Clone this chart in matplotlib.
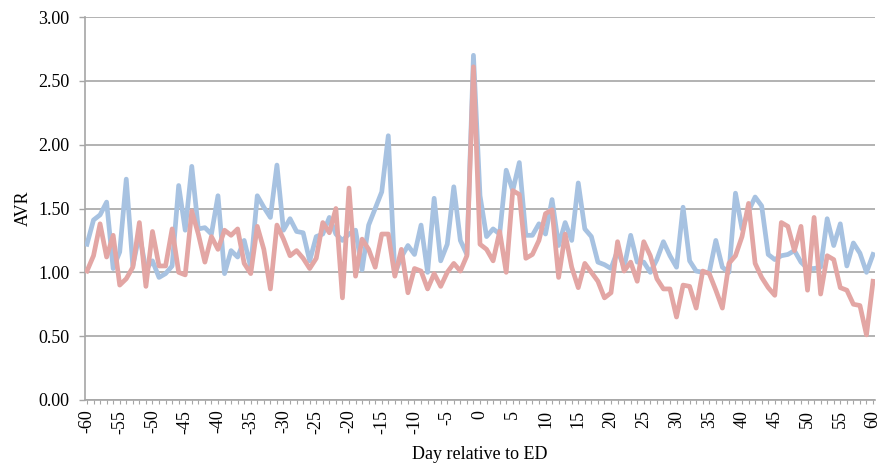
import numpy as np
import matplotlib
matplotlib.use("Agg")
import matplotlib.pyplot as plt
from matplotlib.ticker import MultipleLocator, FormatStrFormatter

plt.rcParams['font.family'] = ['Liberation Serif', 'DejaVu Serif']

days = list(range(-60, 61))

# blue series
avr_blue = [
    1.22, 1.41, 1.45, 1.55, 1.03, 1.16, 1.73, 1.05, 1.30, 1.02,   # -60..-51
    1.09, 0.96, 0.99, 1.05, 1.68, 1.33, 1.83, 1.34, 1.35, 1.30,   # -50..-41
    1.60, 0.99, 1.17, 1.12, 1.25, 1.04, 1.60, 1.51, 1.43, 1.84,   # -40..-31
    1.33, 1.42, 1.32, 1.31, 1.09, 1.28, 1.30, 1.43, 1.30, 1.25,   # -30..-21
    1.30, 1.33, 1.02, 1.37, 1.50, 1.63, 2.07, 0.99, 1.12, 1.21,   # -20..-11
    1.14, 1.37, 1.00, 1.58, 1.09, 1.22, 1.67, 1.25, 1.14, 2.70,   # -10..-1
    1.60, 1.28, 1.34, 1.30, 1.80, 1.64, 1.86, 1.29, 1.29, 1.38,   # 0..9
    1.30, 1.57, 1.21, 1.39, 1.25, 1.70, 1.34, 1.28, 1.08, 1.06,   # 10..19
    1.03, 1.17, 1.04, 1.29, 1.08, 1.08, 1.00, 1.10, 1.24, 1.13,   # 20..29
    1.04, 1.51, 1.09, 1.01, 1.00, 1.00, 1.25, 1.04, 1.00, 1.62,   # 30..39
    1.34, 1.48, 1.59, 1.52, 1.14, 1.10, 1.13, 1.14, 1.17, 1.08,   # 40..49
    1.03, 1.03, 1.04, 1.42, 1.21, 1.38, 1.05, 1.23, 1.15, 1.00,   # 50..59
    1.14,                                                         # 60
]

# red series
avr_red = [
    1.01, 1.13, 1.38, 1.12, 1.29, 0.90, 0.95, 1.04, 1.39, 0.89,   # -60..-51
    1.32, 1.05, 1.05, 1.34, 1.00, 0.98, 1.48, 1.30, 1.08, 1.28,   # -50..-41
    1.18, 1.33, 1.29, 1.34, 1.07, 0.99, 1.36, 1.18, 0.87, 1.37,   # -40..-31
    1.26, 1.13, 1.17, 1.11, 1.03, 1.11, 1.39, 1.31, 1.50, 0.80,   # -30..-21
    1.66, 0.97, 1.26, 1.18, 1.04, 1.30, 1.30, 0.97, 1.18, 0.84,   # -20..-11
    1.03, 1.01, 0.87, 0.99, 0.89, 1.00, 1.07, 1.01, 1.13, 2.61,   # -10..-1
    1.22, 1.18, 1.09, 1.32, 1.00, 1.64, 1.61, 1.11, 1.14, 1.25,   # 0..9
    1.46, 1.49, 0.96, 1.30, 1.04, 0.88, 1.07, 1.00, 0.93, 0.80,   # 10..19
    0.84, 1.24, 1.01, 1.08, 0.93, 1.24, 1.13, 0.95, 0.87, 0.87,   # 20..29
    0.65, 0.90, 0.89, 0.72, 1.01, 0.99, 0.86, 0.72, 1.07, 1.13,   # 30..39
    1.28, 1.54, 1.07, 0.96, 0.88, 0.82, 1.39, 1.36, 1.17, 1.36,   # 40..49
    0.86, 1.43, 0.83, 1.13, 1.10, 0.88, 0.86, 0.75, 0.74, 0.51,   # 50..59
    0.93,                                                         # 60
]

grey = "#a6a6a6"
fsize = 13

fig = plt.figure(figsize=(8.85, 4.68), dpi=100)
ax = fig.add_axes([85 / 885, 68 / 468, 790 / 885, 383 / 468])

ax.plot(days, avr_blue, color="#a7c2e1", lw=3.4, solid_joinstyle="round", zorder=3)
ax.plot(days, avr_red, color="#e3a6a4", lw=3.4, solid_joinstyle="round", zorder=4)

ax.set_xlim(-60.3, 60.3)
ax.set_ylim(0, 3.0)
ax.yaxis.set_major_locator(MultipleLocator(0.5))
ax.yaxis.set_major_formatter(FormatStrFormatter("%.2f"))
ax.set_xticks(range(-60, 61, 5))
ax.xaxis.set_minor_locator(MultipleLocator(1))
ax.set_xticklabels([str(d) for d in range(-60, 61, 5)], rotation=90)

ax.grid(axis="y", color=grey, lw=1.2, zorder=1)
for side in ("top", "right"):
    ax.spines[side].set_visible(False)
for side in ("left", "bottom"):
    ax.spines[side].set_color(grey)
    ax.spines[side].set_linewidth(1.2)

ax.tick_params(axis="y", which="major", length=4, width=1.0, color=grey,
               labelsize=fsize, pad=7)
ax.tick_params(axis="x", which="both", length=3, width=0.8, color=grey,
               labelsize=fsize, pad=4)

ax.set_ylabel("AVR", fontsize=fsize, labelpad=5)
ax.set_xlabel("Day relative to ED", fontsize=fsize, labelpad=9)

fig.savefig("out.png", dpi=100)
